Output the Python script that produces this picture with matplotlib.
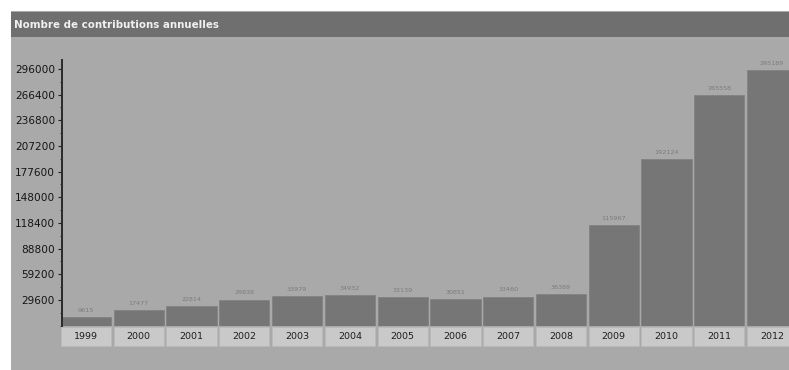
import matplotlib.pyplot as plt
from matplotlib.patches import Rectangle
from matplotlib.ticker import MultipleLocator
import matplotlib.transforms as mtransforms

# contributions per year
years = ["1999", "2000", "2001", "2002", "2003", "2004", "2005",
         "2006", "2007", "2008", "2009", "2010", "2011", "2012"]
contributions = [9615, 17477, 22814, 29838, 33979, 34932, 33139,
                 30851, 33460, 36389, 115967, 192124, 265558, 295189]
y_ticks = [29600, 59200, 88800, 118400, 148000, 177600,
           207200, 236800, 266400, 296000]

W, H = 789, 370
PANEL = "#a9a9a9"
BAR = "#767676"

fig = plt.figure(figsize=(W / 100, H / 100), dpi=100)
fig.patch.set_facecolor("white")

# grey panel and dark header band (kept behind the axes)
fig.patches.append(Rectangle((11 / W, 0), 1, 1 - 11 / H, transform=fig.transFigure,
                             facecolor=PANEL, edgecolor="none", zorder=-2))
fig.patches.append(Rectangle((11 / W, 1 - 37 / H), 1, 25 / H, transform=fig.transFigure,
                             facecolor="#6f6f6f", edgecolor="none", zorder=-1))
fig.text(14 / W, 1 - 25 / H, "Nombre de contributions annuelles", color="#f0f0f0",
         fontsize=7.4, fontweight="bold", va="center", ha="left", family="DejaVu Sans")

left_px, right_px, top_px, bottom_px = 62, 789, 60, 325.5
ax = fig.add_axes([left_px / W, 1 - bottom_px / H,
                   (right_px - left_px) / W, (bottom_px - top_px) / H])
ax.set_facecolor("none")

x = list(range(len(years)))
ax.bar(x, contributions, width=0.95, color=BAR, edgecolor="#838383", linewidth=0.6, zorder=2)

for xi, v in zip(x, contributions):
    ax.annotate(str(v), (xi, v), xytext=(0, 3), textcoords="offset points",
                ha="center", va="bottom", fontsize=4.6, color="#7c7c7c")

ax.set_xlim(-0.455, 13.32)
ax.set_ylim(0, 306400)

ax.set_yticks(y_ticks)
ax.set_yticklabels([str(t) for t in y_ticks])
ax.yaxis.set_minor_locator(MultipleLocator(14800))
ax.tick_params(axis="y", which="major", length=3, width=0.8, color="#222222",
               labelsize=7.6, labelcolor="#151515", pad=2)
ax.tick_params(axis="y", which="minor", length=1.5, width=0.6, color="#333333")
ax.set_xticks([])

for side in ("top", "right", "bottom"):
    ax.spines[side].set_visible(False)
ax.spines["left"].set_color("#2a2a2a")
ax.spines["left"].set_linewidth(1.4)

# year cells under the bars
trans = mtransforms.blended_transform_factory(ax.transData, ax.transAxes)
ah = bottom_px - top_px
cell_top = -(327 - bottom_px) / ah
cell_bot = -(346 - bottom_px) / ah
for xi, label in zip(x, years):
    ax.add_patch(Rectangle((xi - 0.475, cell_bot), 0.95, cell_top - cell_bot,
                           transform=trans, facecolor="#c9c9c9", edgecolor="#b9b9b9",
                           linewidth=0.6, clip_on=False, zorder=2))
    ax.text(xi, (cell_top + cell_bot) / 2, label, transform=trans, ha="center",
            va="center", fontsize=6.8, color="#1e1e1e", clip_on=False, zorder=3)

fig.savefig("out.png", dpi=100, facecolor=fig.get_facecolor())
